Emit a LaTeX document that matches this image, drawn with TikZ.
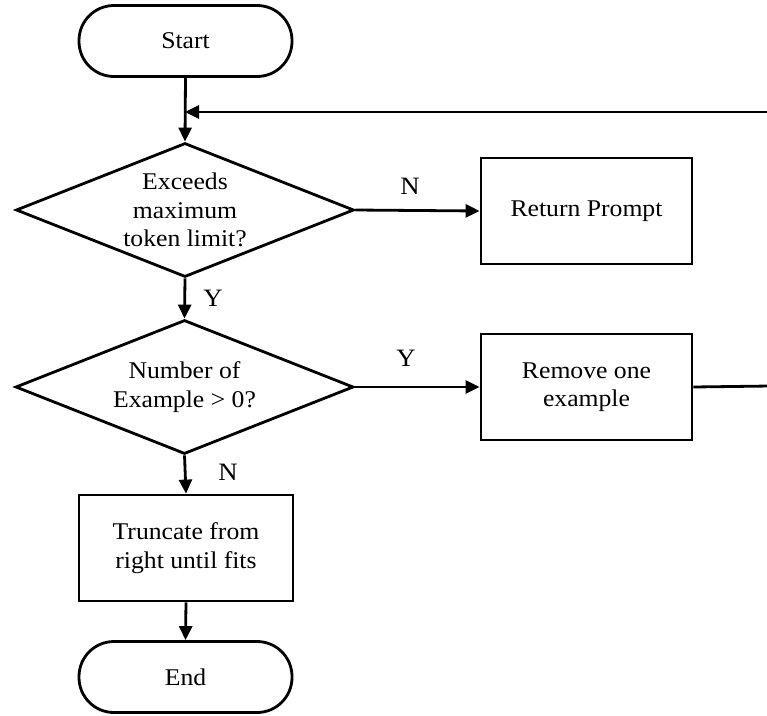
\documentclass[tikz,border=0pt]{standalone}
\usepackage{fontspec}
\setmainfont[FakeStretch=1.07]{Liberation Serif}
\usetikzlibrary{shapes.geometric,arrows.meta}
\begin{document}
\begin{tikzpicture}[x=1pt,y=1pt,line width=2.8pt,
  every node/.style={font=\fontsize{24}{28.5}\selectfont},
  term/.style={draw,rounded corners=35pt,minimum width=213pt,minimum height=71pt,inner sep=0pt},
  proc/.style={draw,minimum width=211pt,minimum height=106pt,inner sep=0pt,align=center},
  decide/.style={draw,diamond,aspect=2.5,minimum width=338pt,minimum height=134pt,inner sep=0pt,align=center},
  arr/.style={-{Triangle[length=14pt,width=13pt]}},
  lbl/.style={inner sep=0pt,font=\fontsize{25}{28}\selectfont}]
\useasboundingbox (0,0) rectangle (767,-715);
\node[term] (start) at (185.5,-41) {Start};
\node[decide] (d1) at (185,-210) {Exceeds\\maximum\\token limit?};
\node[proc] (ret) at (586.5,-211) {Return Prompt};
\node[decide] (d2) at (184.5,-387) {Number of\\Example > 0?};
\node[proc] (rem) at (586.5,-387) {Remove one\\example};
\node[proc,minimum width=214pt] (tr) at (186,-548) {Truncate from\\right until fits};
\node[term] (end) at (185.5,-677) {End};
\coordinate (j) at (185,-112);
\coordinate (r1) at (770,-112);
\coordinate (r2) at (770,-386);
\draw[arr] (start.south) -- (d1.north);
\draw[arr] (d1.south) -- (d2.north);
\draw[arr] (d2.south) -- (tr.north);
\draw[arr] (tr.south) -- (end.north);
\draw[arr] (d1.east) -- (ret.west);
\draw[arr] (d2.east) -- (rem.west);
\draw (rem.east) -- (r2);
\draw[arr] (r1) -- (j);
\node[lbl] (nl1) at (410,-186) {N};
\node[lbl] (yl1) at (213,-298) {Y};
\node[lbl] (yl2) at (406,-358) {Y};
\node[lbl] (nl2) at (228,-472) {N};
\end{tikzpicture}
\end{document}
